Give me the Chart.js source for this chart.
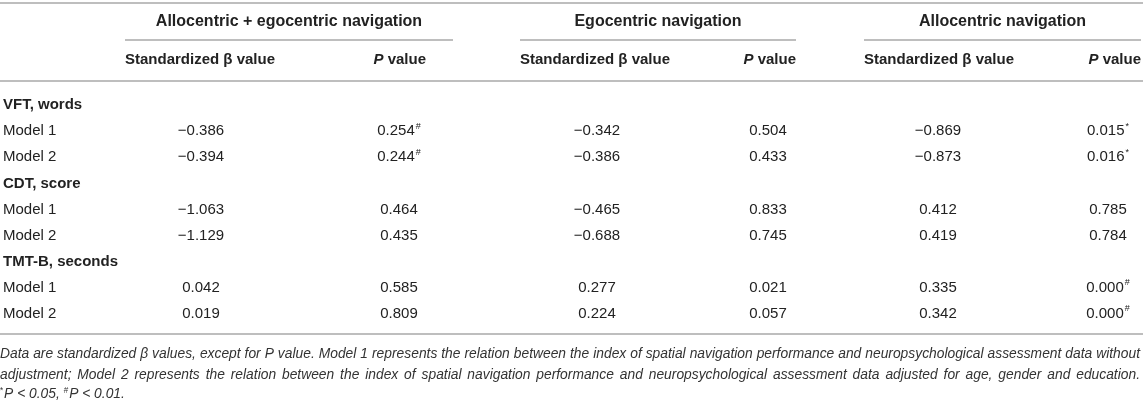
<!DOCTYPE html>
<html>
<head>
<meta charset="utf-8">
<script src="https://cdn.jsdelivr.net/npm/chart.js@4.4.1/dist/chart.umd.min.js"></script>
<style>
  html, body { margin: 0; padding: 0; background: #ffffff; }
  #wrap { width: 1143px; height: 403px; }
</style>
</head>
<body>
<div id="wrap"><canvas id="chTable" width="1143" height="403"></canvas></div>
<script>
/* regression table drawn on a chart.js canvas */

// table data
var groups = ['Allocentric + egocentric navigation', 'Egocentric navigation', 'Allocentric navigation'];
var subHeads = ['Standardized \u03b2 value', 'P value'];
var rowLabels = ['VFT, words', 'Model 1', 'Model 2', 'CDT, score', 'Model 1', 'Model 2', 'TMT-B, seconds', 'Model 1', 'Model 2'];
var sectionRows = [0, 3, 6];
var modelRows = [1, 2, 4, 5, 7, 8];

var betaAllEgo = [-0.386, -0.394, -1.063, -1.129, 0.042, 0.019];
var pAllEgo = [0.254, 0.244, 0.464, 0.435, 0.585, 0.809];
var pAllEgoMark = ['#', '#', '', '', '', ''];

var betaEgo = [-0.342, -0.386, -0.465, -0.688, 0.277, 0.224];
var pEgo = [0.504, 0.433, 0.833, 0.745, 0.021, 0.057];
var pEgoMark = ['', '', '', '', '', ''];

var betaAllo = [-0.869, -0.873, 0.412, 0.419, 0.335, 0.342];
var pAllo = [0.015, 0.016, 0.785, 0.784, 0.000, 0.000];
var pAlloMark = ['*', '*', '', '', '#', '#'];

var noteLines = [
  'Data are standardized \u03b2 values, except for P value. Model 1 represents the relation between the index of spatial navigation performance and neuropsychological assessment data without',
  'adjustment; Model 2 represents the relation between the index of spatial navigation performance and neuropsychological assessment data adjusted for age, gender and education.'
];

// layout (pixels on the x scale)
var colX = [201, 399, 597, 768, 938, 1108];
var groupSpan = [[125, 453], [520, 796], [864, 1141]];
var pHeadRight = [426, 796, 1141];
var ink = '#222222';
var rule = '#a8a8a8';
var family = '"Liberation Sans", Arial, Helvetica, sans-serif';

function fmt(v) {
  var s = Math.abs(v).toFixed(3);
  return v < 0 ? '\u2212' + s : s;
}

function colDataset(values, marks) {
  return {
    data: values.map(function (v, i) { return {x: 0, y: modelRows[i]}; }),
    texts: values.map(fmt),
    marks: marks || [],
    align: 'center'
  };
}

var columns = [
  colDataset(betaAllEgo), colDataset(pAllEgo, pAllEgoMark),
  colDataset(betaEgo), colDataset(pEgo, pEgoMark),
  colDataset(betaAllo), colDataset(pAllo, pAlloMark)
];
columns.forEach(function (ds, c) {
  ds.data.forEach(function (p) { p.x = colX[c]; });
});

var labelSet = {
  data: rowLabels.map(function (l, i) { return {x: 3, y: i}; }),
  texts: rowLabels,
  marks: [],
  align: 'left',
  bold: sectionRows
};

function hline(ctx, x1, x2, y) {
  ctx.save();
  ctx.strokeStyle = rule;
  ctx.lineWidth = 1.6;
  ctx.beginPath();
  ctx.moveTo(x1, y);
  ctx.lineTo(x2, y);
  ctx.stroke();
  ctx.restore();
}

function drawJustified(ctx, text, x, y, width, sx) {
  var words = text.split(' ');
  var widths = words.map(function (w) { return ctx.measureText(w).width * sx; });
  var total = widths.reduce(function (a, b) { return a + b; }, 0);
  var gap = (width - total) / (words.length - 1);
  var cx = x;
  words.forEach(function (w, i) {
    ctx.save();
    ctx.translate(cx, y);
    ctx.scale(sx, 1);
    ctx.fillText(w, 0, 0);
    ctx.restore();
    cx += widths[i] + gap;
  });
}

var tablePlugin = {
  id: 'tablePlugin',
  afterDatasetsDraw: function (chart) {
    var ctx = chart.ctx;
    var xs = chart.scales.x;
    var px = function (v) { return xs.getPixelForValue(v); };
    var W = chart.width;

    ctx.save();
    ctx.fillStyle = ink;
    ctx.textBaseline = 'middle';

    // rules
    hline(ctx, 0, W, 3);
    hline(ctx, 0, W, 81);
    hline(ctx, 0, W, 334);
    groupSpan.forEach(function (g) { hline(ctx, px(g[0]), px(g[1]), 40); });

    // group headers
    ctx.font = 'bold 16px ' + family;
    ctx.textAlign = 'center';
    groups.forEach(function (g, i) {
      ctx.fillText(g, (px(groupSpan[i][0]) + px(groupSpan[i][1])) / 2, 22);
    });

    // sub headers
    groupSpan.forEach(function (g, i) {
      ctx.textAlign = 'left';
      ctx.font = 'bold 15px ' + family;
      ctx.fillText(subHeads[0], px(g[0]), 60);
      var rest = ' value';
      var wr = ctx.measureText(rest).width;
      ctx.textAlign = 'right';
      ctx.fillText(rest, px(pHeadRight[i]), 60);
      ctx.font = 'italic bold 15px ' + family;
      ctx.fillText('P', px(pHeadRight[i]) - wr, 60);
    });

    // cells, placed by the chart's own scales
    chart.data.datasets.forEach(function (ds, i) {
      var meta = chart.getDatasetMeta(i);
      meta.data.forEach(function (el, j) {
        var isBold = ds.bold && ds.bold.indexOf(j) >= 0;
        ctx.font = (isBold ? 'bold ' : '') + '15px ' + family;
        var t = ds.texts[j];
        var m = ds.marks[j] || '';
        if (ds.align === 'left') {
          ctx.textAlign = 'left';
          ctx.fillText(t, el.x, el.y);
          return;
        }
        var tw = ctx.measureText(t).width;
        ctx.font = '9px ' + family;
        var mw = m ? ctx.measureText(m).width + 1 : 0;
        var left = el.x - (tw + mw) / 2;
        ctx.textAlign = 'left';
        ctx.font = '15px ' + family;
        ctx.fillText(t, left, el.y);
        if (m) {
          ctx.font = '9px ' + family;
          ctx.fillText(m, left + tw + 1, el.y - 5);
        }
      });
    });

    // footnote
    ctx.fillStyle = '#333333';
    ctx.textBaseline = 'alphabetic';
    ctx.textAlign = 'left';
    ctx.font = 'italic 14.5px ' + family;
    var natural = ctx.measureText(noteLines[0]).width;
    var sx = Math.min(1, (W - 6) / natural);
    drawJustified(ctx, noteLines[0], 0, 358, W - 3, sx);
    drawJustified(ctx, noteLines[1], 0, 379, W - 3, sx);

    // significance line
    var x = 0;
    ctx.save();
    ctx.translate(0, 398);
    ctx.scale(sx, 1);
    var parts = [['*', true], ['P < 0.05, ', false], ['#', true], ['P < 0.01.', false]];
    parts.forEach(function (p) {
      if (p[1]) {
        ctx.font = '8.5px ' + family;
        ctx.fillText(p[0], x, -5);
      } else {
        ctx.font = 'italic 14.5px ' + family;
        ctx.fillText(p[0], x, 0);
      }
      x += ctx.measureText(p[0]).width + (p[1] ? 1 : 0);
    });
    ctx.restore();

    ctx.restore();
  }
};

var chTable = document.getElementById('chTable');
if (chTable) {
  new Chart(chTable, {
    type: 'scatter',
    data: { datasets: columns.concat([labelSet]) },
    options: {
      responsive: false,
      animation: false,
      devicePixelRatio: 1,
      layout: { padding: { top: 105, bottom: 89, left: 0, right: 0 } },
      elements: { point: { radius: 0, hoverRadius: 0 } },
      scales: {
        x: { type: 'linear', min: 0, max: 1143, display: false },
        y: { type: 'linear', min: 0, max: rowLabels.length - 1, reverse: true, display: false }
      },
      plugins: { legend: { display: false }, tooltip: { enabled: false } }
    },
    plugins: [tablePlugin]
  });
}
</script>
</body>
</html>
